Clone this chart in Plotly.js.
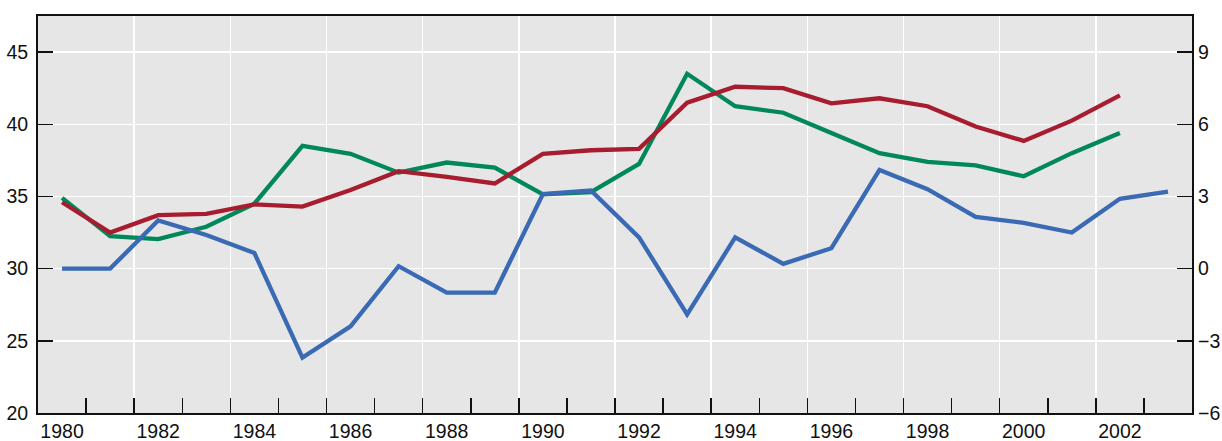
<!DOCTYPE html>
<html>
<head>
<meta charset="utf-8">
<script src="https://cdn.plot.ly/plotly-3.0.1.min.js"></script>
<style>
  html, body { margin: 0; padding: 0; background: #fff; }
  #chart_div { width: 1222px; height: 441px; }
</style>
</head>
<body>
<div id="chart_div"></div>
<script>
// years on the x axis
var years = [1980, 1981, 1982, 1983, 1984, 1985, 1986, 1987, 1988, 1989, 1990, 1991,
             1992, 1993, 1994, 1995, 1996, 1997, 1998, 1999, 2000, 2001, 2002, 2003];

// left scale series
var redVals = [34.6, 32.5, 33.7, 33.8, 34.45, 34.3, 35.45, 36.75, 36.35, 35.9, 37.95, 38.2,
               38.3, 41.5, 42.6, 42.5, 41.45, 41.8, 41.25, 39.85, 38.85, 40.25, 42.0];
var greenVals = [34.9, 32.25, 32.05, 32.9, 34.5, 38.5, 37.95, 36.65, 37.35, 37.0, 35.15, 35.3,
                 37.25, 43.5, 41.25, 40.8, 39.4, 38.0, 37.4, 37.15, 36.4, 38.0, 39.4];

// right scale series
var blueVals = [0.0, 0.0, 2.0, 1.4, 0.65, -3.7, -2.4, 0.1, -1.0, -1.0, 3.1, 3.25,
                1.3, -1.9, 1.3, 0.2, 0.85, 4.1, 3.3, 2.15, 1.9, 1.5, 2.9, 3.2];

// axis ticks
var xLabelYears = [1980, 1982, 1984, 1986, 1988, 1990, 1992, 1994, 1996, 1998, 2000, 2002];
var leftTicks = [20, 25, 30, 35, 40, 45];
var rightTicks = [-6, -3, 0, 3, 6, 9];

function drawChart() {
    var xRange = [years[0] - 0.5, years[years.length - 1] + 0.5];

    // tick marks sit on the boundaries between years, gridlines on every second one
    var boundaries = [];
    for (var i = 0; i < years.length - 1; i++) {
        boundaries.push(years[i] + 0.5);
    }
    var gridVals = boundaries.filter(function (b) { return (b - 0.5) % 2 === 1; });

    var red = {
        x: years.slice(0, redVals.length),
        y: redVals,
        type: 'scatter',
        mode: 'lines',
        line: {color: '#a81c2f', width: 4.3},
        hoverinfo: 'skip'
    };
    var green = {
        x: years.slice(0, greenVals.length),
        y: greenVals,
        type: 'scatter',
        mode: 'lines',
        line: {color: '#00875a', width: 4.3},
        hoverinfo: 'skip'
    };
    var blue = {
        x: years,
        y: blueVals,
        xaxis: 'x2',
        yaxis: 'y2',
        type: 'scatter',
        mode: 'lines',
        line: {color: '#3a6ab4', width: 4.3},
        hoverinfo: 'skip'
    };

    var tickFont = {family: 'Liberation Sans, Arial, sans-serif', size: 19.5, color: '#111111'};

    var layout = {
        width: 1222,
        height: 441,
        margin: {l: 38, r: 30, t: 16, b: 28, pad: 0},
        paper_bgcolor: '#ffffff',
        plot_bgcolor: '#e6e6e6',
        showlegend: false,
        font: tickFont,
        xaxis: {
            range: xRange,
            tickmode: 'array',
            tickvals: xLabelYears,
            ticktext: xLabelYears.map(String),
            ticks: '',
            showgrid: false,
            zeroline: false,
            showline: true,
            mirror: true,
            linecolor: '#111',
            linewidth: 2,
            tickfont: tickFont,
            minor: {
                tickmode: 'array',
                tickvals: boundaries,
                ticks: 'inside',
                ticklen: 15,
                tickwidth: 1.5,
                tickcolor: '#111',
                showgrid: false
            }
        },
        xaxis2: {
            range: xRange,
            overlaying: 'x',
            anchor: 'y',
            side: 'bottom',
            tickmode: 'array',
            tickvals: gridVals,
            showticklabels: false,
            ticks: '',
            showgrid: true,
            gridcolor: '#ffffff',
            gridwidth: 1.5,
            zeroline: false,
            showline: false
        },
        yaxis: {
            range: [20, 47.5],
            tickmode: 'array',
            tickvals: leftTicks,
            ticks: 'inside',
            ticklen: 15,
            tickwidth: 1.5,
            tickcolor: '#111',
            ticklabelstandoff: 4,
            showgrid: true,
            gridcolor: '#ffffff',
            gridwidth: 1.5,
            zeroline: false,
            showline: true,
            mirror: true,
            linecolor: '#111',
            linewidth: 2,
            tickfont: tickFont
        },
        yaxis2: {
            range: [-6, 10.5],
            overlaying: 'y',
            side: 'right',
            anchor: 'x',
            tickmode: 'array',
            tickvals: rightTicks,
            ticktext: rightTicks.map(function (v) { return v < 0 ? '\u2212' + Math.abs(v) : String(v); }),
            ticks: 'inside',
            ticklen: 15,
            tickwidth: 1.5,
            tickcolor: '#111',
            ticklabelstandoff: 5,
            showgrid: false,
            zeroline: false,
            showline: false,
            tickfont: tickFont
        }
    };

    Plotly.newPlot('chart_div', [green, red, blue], layout, {staticPlot: true});
}

drawChart();
</script>
</body>
</html>
